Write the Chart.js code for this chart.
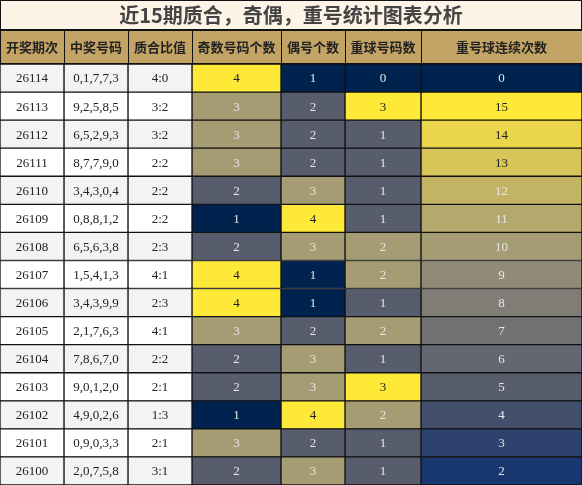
<!DOCTYPE html><html><head><meta charset="utf-8">
<script src="https://cdn.jsdelivr.net/npm/chart.js@4"></script>
<style>html,body{margin:0;padding:0;background:#fff}#w{width:582px;height:485px}</style></head><body><div id="w"><canvas id="c"></canvas></div>
<script>
const title='近15期质合，奇偶，重号统计图表分析';
const headers=['开奖期次','中奖号码','质合比值','奇数号码个数','偶号个数','重球号码数','重号球连续次数'];
const periods=['26114','26113','26112','26111','26110','26109','26108','26107','26106','26105','26104','26103','26102','26101','26100'];
const numbers=['0,1,7,7,3','9,2,5,8,5','6,5,2,9,3','8,7,7,9,0','3,4,3,0,4','0,8,8,1,2','6,5,6,3,8','1,5,4,1,3','3,4,3,9,9','2,1,7,6,3','7,8,6,7,0','9,0,1,2,0','4,9,0,2,6','0,9,0,3,3','2,0,7,5,8'];
const ratios=['4:0','3:2','3:2','2:2','2:2','2:2','2:3','4:1','2:3','4:1','2:2','2:1','1:3','2:1','3:1'];
const oddCount=[4,3,3,3,2,1,2,4,4,3,2,2,1,3,2];
const evenCount=[1,2,2,2,3,4,3,1,1,2,3,3,4,2,3];
const repeatCount=[0,3,1,1,1,1,2,2,1,2,1,3,2,1,1];
const streak=[0,15,14,13,12,11,10,9,8,7,6,5,4,3,2];

const colEdges=[0,64,128,192,281,345,421,582];
const stops=[[0,[0,34,78]],[0.125,[20,54,110]],[0.25,[62,74,108]],[0.333,[87,93,109]],[0.5,[120,118,118]],[0.6,[145,138,118]],[0.667,[165,156,116]],[0.8,[195,180,100]],[0.9,[225,205,85]],[1,[254,232,56]]];
function cmap(t){for(let i=1;i<stops.length;i++){if(t<=stops[i][0]){const a=stops[i-1],b=stops[i];const f=(t-a[0])/(b[0]-a[0]);const c=a[1].map((v,k)=>Math.round(v+(b[1][k]-v)*f));return 'rgb('+c.join(',')+')';}}return 'rgb(254,232,56)';}
const cols=[
 {txt:periods},{txt:numbers},{txt:ratios},
 {val:oddCount,min:1,max:4},{val:evenCount,min:1,max:4},{val:repeatCount,min:0,max:3},{val:streak,min:0,max:15}];
const datasets=cols.map((c,ci)=>({
 data:periods.map(()=>[colEdges[ci],colEdges[ci+1]]),
 backgroundColor:periods.map((p,ri)=>c.val?cmap((c.val[ri]-c.min)/(c.max-c.min)):(ri%2==0?'#f3f3f3':'#ffffff')),
 borderColor:'#111',borderWidth:1,borderSkipped:false,grouped:false,barPercentage:1,categoryPercentage:1
}));
const plug={id:'txt',afterDatasetsDraw(ch){const ctx=ch.ctx;const ys=ch.scales.y;
 ctx.save();ctx.textAlign='center';ctx.textBaseline='middle';
 cols.forEach((c,ci)=>{const cx=(colEdges[ci]+colEdges[ci+1])/2;
  periods.forEach((p,ri)=>{const y=ys.getPixelForValue(ri);let s,col='#222';
   if(c.val){s=String(c.val[ri]);const t=(c.val[ri]-c.min)/(c.max-c.min);col=t>0.8?'#222':'#e6e6e6';}else s=c.txt[ri];
   ctx.font='13px "Liberation Serif"';ctx.fillStyle=col;ctx.fillText(s,cx,y+1);});});
 ctx.fillStyle='#fdf3e6';ctx.fillRect(0,0,582,30);ctx.strokeStyle='#111';ctx.lineWidth=1;ctx.strokeRect(0.5,0.5,581,29);
 ctx.fillStyle='#444';ctx.font='bold 20px "Noto Sans CJK SC"';ctx.fillText(title,291,15);
 ctx.fillStyle='#c4a464';ctx.fillRect(0,30,582,34);
 headers.forEach((h,i)=>{ctx.strokeRect(colEdges[i]+0.5,30.5,colEdges[i+1]-colEdges[i],33);
  ctx.fillStyle='#222';ctx.font='bold 13px "Noto Sans CJK SC"';ctx.fillText(h,(colEdges[i]+colEdges[i+1])/2,47);});
 ctx.restore();}};
new Chart(document.getElementById('c'),{type:'bar',data:{labels:periods,datasets},
 options:{indexAxis:'y',responsive:true,maintainAspectRatio:false,animation:false,
  layout:{padding:{top:64,left:0,right:0,bottom:0}},
  plugins:{legend:{display:false},tooltip:{enabled:false}},
  scales:{x:{type:'linear',min:0,max:582,display:false},y:{display:false,offset:true}}},
 plugins:[plug]});
</script></body></html>
